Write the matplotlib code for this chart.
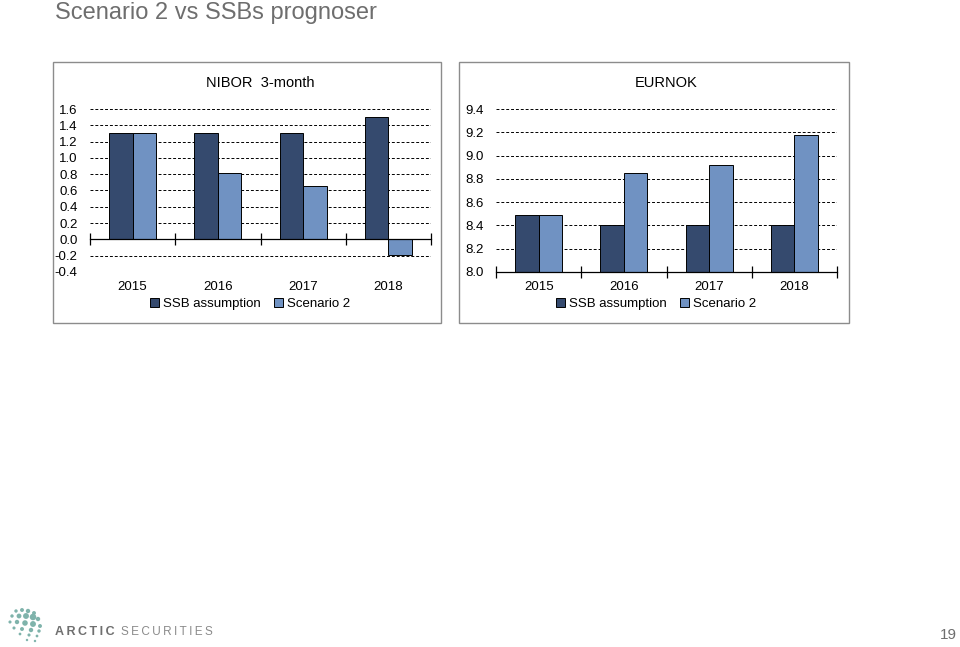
import matplotlib
matplotlib.use('Agg')
from matplotlib import pyplot as plt
from matplotlib.patches import Rectangle, Patch
import numpy as np

plt.rcParams['font.family'] = ['Liberation Sans', 'DejaVu Sans']

years = ['2015', '2016', '2017', '2018']
series_names = ['SSB assumption', 'Scenario 2']

nibor_ssb = [1.30, 1.30, 1.30, 1.50]
nibor_scen2 = [1.30, 0.82, 0.66, -0.19]
nibor_ticks = [-0.4, -0.2, 0.0, 0.2, 0.4, 0.6, 0.8, 1.0, 1.2, 1.4, 1.6]

eurnok_ssb = [8.49, 8.40, 8.40, 8.40]
eurnok_scen2 = [8.49, 8.85, 8.92, 9.18]
eurnok_ticks = [8.0, 8.2, 8.4, 8.6, 8.8, 9.0, 9.2, 9.4]

dark = '#354a6e'
light = '#7092c2'
W, H = 960, 647
FS = 9.5


def px_box(x0, y0, x1, y1):
    # pixel box (top-left origin) -> figure fraction rect
    return [x0 / W, 1 - y1 / H, (x1 - x0) / W, (y1 - y0) / H]


def draw_panel(fig, frame, axbox, title, ssb, scen, ticks, base):
    fig.patches.append(Rectangle((frame[0] / W, 1 - frame[3] / H),
                                 (frame[2] - frame[0]) / W, (frame[3] - frame[1]) / H,
                                 transform=fig.transFigure, fill=False,
                                 edgecolor='#8c8c8c', lw=1.0))
    ax = fig.add_axes(px_box(*axbox))
    x = np.arange(len(years))
    w = 0.275
    ax.bar(x - w / 2, np.array(ssb) - base, w, bottom=base,
           color=dark, edgecolor='black', lw=0.7, zorder=3)
    ax.bar(x + w / 2, np.array(scen) - base, w, bottom=base,
           color=light, edgecolor='black', lw=0.7, zorder=3)
    ax.set_xlim(-0.5, len(years) - 0.5)
    ax.set_ylim(ticks[0], ticks[-1])
    ax.set_yticks(ticks)
    ax.set_yticklabels([f'{t:.1f}' for t in ticks], fontsize=FS)
    for t in ticks:
        if abs(t - base) > 1e-9:
            ax.axhline(t, color='black', lw=0.7, ls=(0, (3, 2)), zorder=1)
    for s in ['top', 'right', 'left']:
        ax.spines[s].set_visible(False)
    ax.spines['bottom'].set_position(('data', base))
    ax.spines['bottom'].set_linewidth(0.9)
    ax.spines['bottom'].set_zorder(4)
    ax.set_xticks(np.arange(len(years) + 1) - 0.5)
    ax.set_xticklabels([])
    ax.tick_params(axis='x', direction='inout', length=8, width=0.9)
    ax.tick_params(axis='y', length=0, pad=9)
    for i, yr in enumerate(years):
        ax.text(i, -0.092, yr, transform=ax.get_xaxis_transform(),
                ha='center', va='center', fontsize=FS)
    ax.set_title(title, fontsize=10.5, pad=16)
    handles = [Patch(facecolor=dark, edgecolor='black', lw=0.7),
               Patch(facecolor=light, edgecolor='black', lw=0.7)]
    ax.legend(handles, series_names, loc='center', bbox_to_anchor=(0.47, -0.196),
              ncol=2, frameon=False, fontsize=FS, handlelength=0.7,
              handleheight=0.7, handletextpad=0.3, columnspacing=1.0,
              borderaxespad=0)
    return ax


fig = plt.figure(figsize=(9.6, 6.47), dpi=100)

fig.text(55 / W, 1 - 13 / H, 'Scenario 2 vs SSBs prognoser', fontsize=17,
         color='#6e6e6e', ha='left', va='center')

draw_panel(fig, (53, 62, 441, 323), (90, 109, 431, 272), 'NIBOR  3-month',
           nibor_ssb, nibor_scen2, nibor_ticks, 0.0)
draw_panel(fig, (459, 62, 849, 323), (496, 109, 837, 272), 'EURNOK',
           eurnok_ssb, eurnok_scen2, eurnok_ticks, 8.0)

# footer: logo and page number
logo = fig.add_axes(px_box(2, 605, 50, 645))
logo.set_xlim(0, 48)
logo.set_ylim(40, 0)
logo.axis('off')
dot_x = [14, 20, 26, 32, 10, 17, 24, 31, 36, 8, 15, 23, 31, 38, 12, 20, 29, 37, 18, 27, 35, 25, 33]
dot_y = [6, 5, 6, 8, 11, 11, 11, 12, 14, 17, 17, 18, 19, 21, 23, 24, 25, 26, 29, 30, 31, 35, 36]
dot_s = [6, 8, 10, 8, 6, 12, 18, 22, 10, 5, 10, 16, 18, 8, 5, 8, 10, 6, 4, 5, 4, 3, 3]
logo.scatter(dot_x, dot_y, s=dot_s, color='#7fb3ab', lw=0)

thin = '\u2009'
fig.text(55 / W, 1 - 632 / H, thin.join('ARCTIC'), fontsize=9, color='#6f6f6f',
         fontweight='bold', ha='left', va='center')
fig.text(121 / W, 1 - 632 / H, thin.join('SECURITIES'), fontsize=8.5,
         color='#8a8a8a', ha='left', va='center')
fig.text(957 / W, 1 - 635 / H, '19', fontsize=11, color='#6e6e6e',
         ha='right', va='center')

fig.savefig('out.png', dpi=100)
